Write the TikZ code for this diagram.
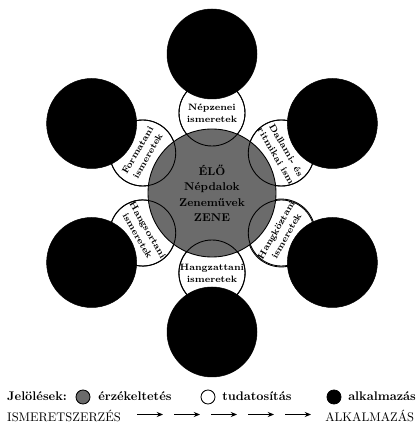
\documentclass[tikz,border=0pt]{standalone}
\usepackage{tikz}
\usetikzlibrary{arrows.meta, positioning}

\begin{document}
\begin{tikzpicture}[x=0.8pt, y=0.8pt,
  erz/.style={circle, draw, line width=0.7pt, fill=black!58, minimum size=102.4pt, inner sep=0pt, align=center, font=\fontsize{9}{12.4}\selectfont\bfseries},
  tud/.style={circle, draw, line width=0.7pt, fill=white, minimum size=52.8pt, inner sep=0pt, align=center, font=\fontsize{7.4}{9.4}\selectfont\bfseries},
  alk/.style={circle, draw, fill=black, minimum size=72pt, inner sep=0pt},
  jel/.style={circle, draw, line width=0.7pt, minimum size=11.2pt, inner sep=0pt},
  lab/.style={anchor=base west, inner sep=0pt, font=\fontsize{10}{12}\selectfont},
  arr/.style={-{Stealth[length=5pt, width=4pt]}, line width=0.6pt}
]
  \useasboundingbox (0,0) rectangle (416,423);
  \coordinate (mid) at (212,230);

  % tudatositas
  \node[tud] (nepz) at ([shift={(90:80)}]mid) {Népzenei\\ismeretek};
  \node[tud, rotate=60] (forma) at ([shift={(150:80)}]mid) {Formatani\\ismeretek};
  \node[tud, rotate=-60] (dall) at ([shift={(30:80)}]mid) {Dallami- és\\ritmikai ism};
  \node[tud, rotate=-60] (hsor) at ([shift={(210:80)}]mid) {Hangsortani\\ismeretek};
  \node[tud, rotate=60] (hkoz) at ([shift={(330:80)}]mid) {Hangköztani\\ismeretek};
  \node[tud] (hzat) at ([shift={(270:80)}]mid) {Hangzattani\\ismeretek};

  % erzekeltetes
  \node[erz] (zene) at (mid) {ÉLŐ\\Népdalok\\Zeneművek\\ZENE};
  \foreach \n in {nepz, forma, dall, hsor, hkoz, hzat}
    \draw[line width=0.7pt] (\n.center) circle[radius=33];

  % alkalmazas
  \node[alk] (a1) at ([shift={(90:139)}]mid) {};
  \node[alk] (a2) at ([shift={(150:139)}]mid) {};
  \node[alk] (a3) at ([shift={(30:139)}]mid) {};
  \node[alk] (a4) at ([shift={(210:139)}]mid) {};
  \node[alk] (a5) at ([shift={(330:139)}]mid) {};
  \node[alk] (a6) at ([shift={(270:139)}]mid) {};

  % jelolesek
  \node[lab, font=\fontsize{10}{12}\selectfont\bfseries] (jelol) at (7,22.5) {Jelölések:};
  \node[jel, fill=black!58] (jerz) at (83,26) {};
  \node[lab, font=\fontsize{10}{12}\selectfont\bfseries] (terz) at (98,22.5) {érzékeltetés};
  \node[jel, fill=white] (jtud) at (208,26) {};
  \node[lab, font=\fontsize{10}{12}\selectfont\bfseries] (ttud) at (222,22.5) {tudatosítás};
  \node[jel, fill=black] (jalk) at (334,26) {};
  \node[lab, font=\fontsize{10}{12}\selectfont\bfseries] (talk) at (348,22.5) {alkalmazás};

  \node[lab] (ism) at (7,1.5) {ISMERETSZERZÉS};
  \node[lab] (alkm) at (325,1.5) {ALKALMAZÁS};
  \foreach \i in {0,...,4} {
    \coordinate (p\i) at ({137+37*\i},8.5);
    \coordinate (q\i) at ({163+37*\i},8.5);
    \draw[arr] (p\i) -- (q\i);
  }
\end{tikzpicture}
\end{document}
